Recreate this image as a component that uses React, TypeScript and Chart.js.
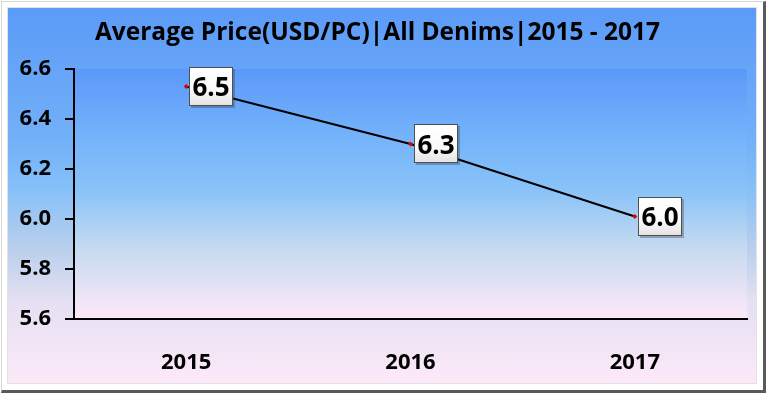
import React, { useEffect, useRef } from "react";
import { Chart, registerables } from "chart.js";

Chart.register(...registerables);

const titleText = "Average Price(USD/PC)|All Denims|2015 - 2017";
const categories = ["2015", "2016", "2017"];
const prices = [6.53, 6.3, 6.01];
const priceLabels = ["6.5", "6.3", "6.0"];
const yTicks = [5.6, 5.8, 6.0, 6.2, 6.4, 6.6];

const FONT = "'Open Sans', 'DejaVu Sans', sans-serif";

const plotBg = {
  id: "plotBg",
  beforeDraw(chart: any) {
    const { ctx, chartArea: a } = chart;
    const g = ctx.createLinearGradient(0, a.top, 0, a.bottom);
    g.addColorStop(0, "#5b99fa");
    g.addColorStop(0.28, "#75b4fa");
    g.addColorStop(0.48, "#88c2f8");
    g.addColorStop(0.72, "#c7daf0");
    g.addColorStop(1, "#fde9f8");
    ctx.save();
    ctx.fillStyle = g;
    ctx.fillRect(a.left, a.top, a.right - a.left, a.bottom - a.top);
    ctx.restore();
  },
};

const boxLabels = {
  id: "boxLabels",
  afterDatasetsDraw(chart: any) {
    const { ctx } = chart;
    const meta = chart.getDatasetMeta(0);
    ctx.save();
    ctx.font = `bold 26px ${FONT}`;
    meta.data.forEach((pt: any, i: number) => {
      const text = priceLabels[i];
      const tw = ctx.measureText(text).width;
      const w = Math.round(tw + 7);
      const h = 39;
      const x = Math.round(pt.x + 3);
      const y = Math.round(pt.y - h / 2);
      ctx.fillStyle = "rgba(60,60,60,0.35)";
      ctx.fillRect(x + 2, y + 2, w, h);
      const g = ctx.createLinearGradient(0, y, 0, y + h);
      g.addColorStop(0, "#ffffff");
      g.addColorStop(0.6, "#fafafa");
      g.addColorStop(1, "#e2e2e2");
      ctx.fillStyle = g;
      ctx.fillRect(x, y, w, h);
      ctx.strokeStyle = "#505050";
      ctx.lineWidth = 1;
      ctx.strokeRect(x + 0.5, y + 0.5, w - 1, h - 1);
      ctx.fillStyle = "#000";
      ctx.textAlign = "center";
      ctx.textBaseline = "alphabetic";
      ctx.fillText(text, x + w / 2, pt.y + 9.5);
    });
    ctx.restore();
  },
};

export default function App() {
  const ref = useRef<HTMLCanvasElement | null>(null);

  useEffect(() => {
    if (!ref.current) return;
    const chart = new Chart(ref.current, {
      type: "line",
      data: {
        labels: categories,
        datasets: [
          {
            data: prices,
            borderColor: "#000000",
            borderWidth: 2,
            pointStyle: "rectRot",
            pointRadius: 2.5,
            pointBackgroundColor: "#e00000",
            pointBorderColor: "#e00000",
            pointBorderWidth: 0,
            tension: 0,
          },
        ],
      },
      options: {
        animation: false,
        responsive: false,
        devicePixelRatio: 1,
        layout: { padding: { left: 0, right: 9, top: 0, bottom: 0 } },
        plugins: {
          legend: { display: false },
          tooltip: { enabled: false },
          title: {
            display: true,
            text: titleText,
            color: "#000",
            font: { family: FONT, size: 24.5, weight: "bold", lineHeight: 1.2 },
            padding: { top: 10, bottom: 21.6 },
          },
        },
        scales: {
          x: {
            offset: true,
            grid: { display: false, drawTicks: false },
            border: { display: true, color: "#000", width: 2 },
            ticks: {
              color: "#000",
              font: { family: FONT, size: 22, weight: "bold" },
              padding: 31,
              maxRotation: 0,
            },
            afterFit: (s: any) => {
              s.height = 64;
            },
          },
          y: {
            min: 5.6,
            max: 6.6,
            afterBuildTicks: (s: any) => {
              s.ticks = yTicks.map((v) => ({ value: v }));
            },
            grid: {
              display: true,
              drawOnChartArea: false,
              drawTicks: true,
              tickLength: 9,
              color: "#000",
              lineWidth: 2,
            },
            border: { display: true, color: "#000", width: 2 },
            ticks: {
              color: "#000",
              font: { family: FONT, size: 22, weight: "bold" },
              padding: 14,
              callback: (v: any) => Number(v).toFixed(1),
            },
            afterFit: (s: any) => {
              s.width = 66;
            },
          },
        },
      },
      plugins: [plotBg, boxLabels],
    });
    return () => chart.destroy();
  }, []);

  return (
    <div
      style={{
        position: "fixed",
        left: 0,
        top: 0,
        width: 768,
        height: 396,
        background: "#ffffff",
      }}
    >
      <div
        style={{
          position: "absolute",
          left: 1,
          top: 1,
          width: 765,
          height: 392,
          borderTop: "1px solid #d4d4d4",
          borderLeft: "1px solid #d4d4d4",
          borderRight: "3px solid #5a5a5a",
          borderBottom: "3px solid #5a5a5a",
          boxSizing: "border-box",
          background: "#ffffff",
        }}
      />
      <div
        style={{
          position: "absolute",
          left: 8,
          top: 8,
          width: 748,
          height: 375,
          background:
            "linear-gradient(to bottom, #5b9bf7 0%, #72b0f8 35%, #85c0f8 48%, #bcd0ec 65%, #e5e0f2 78%, #fce9f8 100%)",
          boxShadow: "0 0 0 1px #e2e2e2",
        }}
      >
        <canvas ref={ref} width={748} height={375} style={{ display: "block" }} />
      </div>
    </div>
  );
}
